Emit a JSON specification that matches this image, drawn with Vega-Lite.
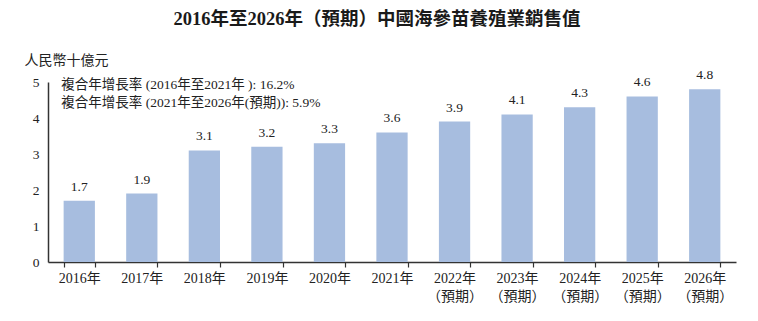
{
  "$schema": "https://vega.github.io/schema/vega-lite/v6.json",
  "width": 688,
  "height": 180,
  "autosize": "none",
  "padding": {"left": 48, "top": 82, "right": 22, "bottom": 59},
  "title": {
    "text": "2016年至2026年（預期）中國海參苗養殖業銷售值",
    "font": "Liberation Serif, Noto Sans CJK TC",
    "fontSize": 18.5,
    "fontWeight": "bold",
    "color": "#1a1a1a",
    "anchor": "middle",
    "dx": -15,
    "offset": 25
  },
  "config": {
    "view": {"stroke": null},
    "font": "Liberation Serif, Noto Sans CJK TC",
    "text": {"font": "Liberation Serif, Noto Sans CJK TC"}
  },
  "data": {
    "values": [
      {"year": "2016年", "value": 1.7},
      {"year": "2017年", "value": 1.9},
      {"year": "2018年", "value": 3.1},
      {"year": "2019年", "value": 3.2},
      {"year": "2020年", "value": 3.3},
      {"year": "2021年", "value": 3.6},
      {"year": "2022年|（預期）", "value": 3.9},
      {"year": "2023年|（預期）", "value": 4.1},
      {"year": "2024年|（預期）", "value": 4.3},
      {"year": "2025年|（預期）", "value": 4.6},
      {"year": "2026年|（預期）", "value": 4.8}
    ]
  },
  "encoding": {
    "x": {
      "field": "year",
      "type": "nominal",
      "sort": null,
      "scale": {"paddingInner": 0.5, "paddingOuter": 0.25},
      "axis": {
        "title": null,
        "labelAngle": 0,
        "labelExpr": "isValid(datum.value) ? split(datum.value, '|') : ''",
        "labelFontSize": 14,
        "labelColor": "#222",
        "labelPadding": 4,
        "labelLineHeight": 18,
        "labelBaseline": "top",
        "tickBand": "extent",
        "tickSize": 5,
        "tickColor": "#333",
        "domainColor": "#333",
        "domainWidth": 1.5,
        "tickWidth": 1.2
      }
    },
    "y": {
      "field": "value",
      "type": "quantitative",
      "scale": {"domain": [0, 5]},
      "axis": {
        "title": "人民幣十億元",
        "titleAngle": 0,
        "titleAlign": "left",
        "titleBaseline": "alphabetic",
        "titleX": -24,
        "titleY": -18,
        "titleFontSize": 14,
        "titleFontWeight": "normal",
        "titleColor": "#222",
        "values": [0, 1, 2, 3, 4, 5],
        "labelOverlap": false,
        "grid": false,
        "ticks": false,
        "labelFontSize": 13.5,
        "labelColor": "#222",
        "labelPadding": 9,
        "domainColor": "#333",
        "domainWidth": 1.5
      }
    }
  },
  "layer": [
    {"mark": {"type": "bar", "color": "#a7bddf"}},
    {
      "mark": {"type": "text", "baseline": "bottom", "dy": -7, "fontSize": 13.5, "color": "#222"},
      "encoding": {"text": {"field": "value", "type": "quantitative", "format": ".1f"}}
    },
    {
      "data": {"values": [{"year": "2016年", "value": 5, "note": "複合年增長率 (2016年至2021年 ): 16.2%|複合年增長率 (2021年至2026年(預期)): 5.9%"}]},
      "mark": {"type": "text", "align": "left", "baseline": "middle", "lineBreak": "|", "lineHeight": 18, "dx": -18, "dy": 3, "fontSize": 13.5, "color": "#222"},
      "encoding": {"text": {"field": "note", "type": "nominal"}}
    }
  ]
}
